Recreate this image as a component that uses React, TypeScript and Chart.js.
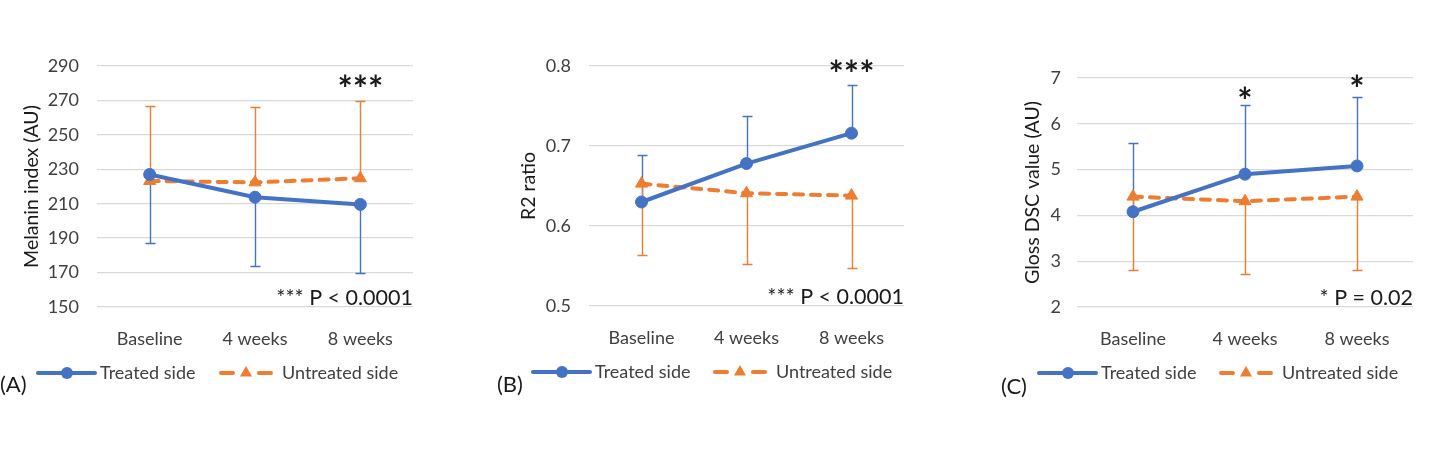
import { useEffect, useRef } from "react";
import { Chart, registerables } from "chart.js";

Chart.register(...registerables);

const FONT = "Lato, 'Open Sans', sans-serif";
const BLUE = "#4472C4";
const ORANGE = "#ED7D31";
const GRID = "#d9d9d9";
const TEXT = "#404040";
const DARK = "#1a1a1a";

const timepoints = ["Baseline", "4 weeks", "8 weeks"];
const seriesNames = ["Treated side", "Untreated side"];

// (A) Melanin index, mean and SD per visit
const melaninTreated = [227.0, 213.8, 209.6];
const melaninTreatedSD = [40.0, 40.0, 40.0];
const melaninUntreated = [223.2, 222.4, 224.8];
const melaninUntreatedSD = [43.8, 43.9, 44.6];
const melaninAxis = [150, 290, 20];
const melaninSig = ["", "", "***"];
const melaninSigAt = [0, 0, 280];

// (B) R2 ratio
const r2Treated = [0.63, 0.678, 0.716];
const r2TreatedSD = [0.059, 0.059, 0.06];
const r2Untreated = [0.653, 0.641, 0.638];
const r2UntreatedSD = [0.089, 0.089, 0.09];
const r2Axis = [0.5, 0.8, 0.1];
const r2Sig = ["", "", "***"];
const r2SigAt = [0, 0, 0.797];

// (C) Gloss DSC value
const glossTreated = [4.08, 4.9, 5.08];
const glossTreatedSD = [1.5, 1.5, 1.5];
const glossUntreated = [4.41, 4.31, 4.41];
const glossUntreatedSD = [1.6, 1.6, 1.6];
const glossAxis = [2, 7, 1];
const glossSig = ["", "*", "*"];
const glossSigAt = [0, 6.63, 6.88];

type PanelCfg = {
  tag: string;
  yTitle: string;
  axis: number[];
  decimals: number;
  treated: number[];
  treatedSD: number[];
  treatedDir: number;
  untreated: number[];
  untreatedSD: number[];
  untreatedDir: number;
  sig: string[];
  sigAt: number[];
  note: string;
  left: number;
  width: number;
  area: { left: number; right: number; top: number; bottom: number };
  tickPad: number;
  titleX: number;
  legendX: number[];
  legendY: number;
  tagX: number;
  tagY: number;
};

const panels: PanelCfg[] = [
  {
    tag: "(A)",
    yTitle: "Melanin index (AU)",
    axis: melaninAxis,
    decimals: 0,
    treated: melaninTreated,
    treatedSD: melaninTreatedSD,
    treatedDir: -1,
    untreated: melaninUntreated,
    untreatedSD: melaninUntreatedSD,
    untreatedDir: 1,
    sig: melaninSig,
    sigAt: melaninSigAt,
    note: "*** P < 0.0001",
    left: 0,
    width: 440,
    area: { left: 97, right: 413, top: 66, bottom: 307 },
    tickPad: 18,
    titleX: 32,
    legendX: [38, 219],
    legendY: 373,
    tagX: 0,
    tagY: 385,
  },
  {
    tag: "(B)",
    yTitle: "R2 ratio",
    axis: r2Axis,
    decimals: 1,
    treated: r2Treated,
    treatedSD: r2TreatedSD,
    treatedDir: 1,
    untreated: r2Untreated,
    untreatedSD: r2UntreatedSD,
    untreatedDir: -1,
    sig: r2Sig,
    sigAt: r2SigAt,
    note: "*** P < 0.0001",
    left: 490,
    width: 440,
    area: { left: 99, right: 414, top: 66, bottom: 306 },
    tickPad: 18,
    titleX: 39,
    legendX: [43, 223],
    legendY: 372,
    tagX: 7,
    tagY: 385,
  },
  {
    tag: "(C)",
    yTitle: "Gloss DSC value (AU)",
    axis: glossAxis,
    decimals: 0,
    treated: glossTreated,
    treatedSD: glossTreatedSD,
    treatedDir: 1,
    untreated: glossUntreated,
    untreatedSD: glossUntreatedSD,
    untreatedDir: -1,
    sig: glossSig,
    sigAt: glossSigAt,
    note: "* P = 0.02",
    left: 990,
    width: 440,
    area: { left: 87, right: 423, top: 78, bottom: 307 },
    tickPad: 16,
    titleX: 43,
    legendX: [49, 229],
    legendY: 373,
    tagX: 11,
    tagY: 387,
  },
];

const HEIGHT = 460;
const X_AXIS_H = 40;
const DASH = [9, 8];
const LINE_W = 4;

function overlay(cfg: PanelCfg) {
  return {
    id: "panelOverlay" + cfg.tag,
    beforeDatasetsDraw(chart: any) {
      const { ctx } = chart;
      const xs = chart.scales.x;
      const ys = chart.scales.y;
      const bars = [
        { mean: cfg.treated, sd: cfg.treatedSD, dir: cfg.treatedDir, color: BLUE },
        { mean: cfg.untreated, sd: cfg.untreatedSD, dir: cfg.untreatedDir, color: ORANGE },
      ];
      ctx.save();
      ctx.lineWidth = 1.4;
      for (const b of bars) {
        ctx.strokeStyle = b.color;
        b.mean.forEach((m, i) => {
          const x = Math.round(xs.getPixelForValue(i)) + 0.5;
          const y0 = ys.getPixelForValue(m);
          const y1 = Math.round(ys.getPixelForValue(m + b.dir * b.sd[i])) + 0.5;
          ctx.beginPath();
          ctx.moveTo(x, y0);
          ctx.lineTo(x, y1);
          ctx.moveTo(x - 5, y1);
          ctx.lineTo(x + 5, y1);
          ctx.stroke();
        });
      }
      ctx.restore();
    },
    afterDraw(chart: any) {
      const { ctx, chartArea } = chart;
      const xs = chart.scales.x;
      const ys = chart.scales.y;
      ctx.save();

      // significance stars above the visits
      ctx.fillStyle = DARK;
      ctx.textAlign = "center";
      ctx.textBaseline = "middle";
      ctx.font = `bold 36px ${FONT}`;
      cfg.sig.forEach((s, i) => {
        if (!s) return;
        ctx.fillText(s, xs.getPixelForValue(i), ys.getPixelForValue(cfg.sigAt[i]) + 7);
      });

      // p-value note
      ctx.font = `21.5px ${FONT}`;
      ctx.textAlign = "right";
      ctx.textBaseline = "alphabetic";
      ctx.fillText(cfg.note, chartArea.right, chartArea.bottom - 2);

      // legend
      ctx.font = `18px ${FONT}`;
      ctx.textBaseline = "middle";
      ctx.textAlign = "left";
      const ly = cfg.legendY;
      const [ax, bx] = cfg.legendX;
      ctx.lineCap = "round";
      ctx.lineWidth = LINE_W;
      ctx.strokeStyle = BLUE;
      ctx.beginPath();
      ctx.moveTo(ax, ly);
      ctx.lineTo(ax + 57, ly);
      ctx.stroke();
      ctx.fillStyle = BLUE;
      ctx.beginPath();
      ctx.arc(ax + 29, ly, 6, 0, Math.PI * 2);
      ctx.fill();
      ctx.fillStyle = TEXT;
      ctx.fillText(seriesNames[0], ax + 62, ly);

      ctx.strokeStyle = ORANGE;
      ctx.beginPath();
      ctx.moveTo(bx + 2, ly);
      ctx.lineTo(bx + 14, ly);
      ctx.moveTo(bx + 40, ly);
      ctx.lineTo(bx + 52, ly);
      ctx.stroke();
      ctx.fillStyle = ORANGE;
      const tx = bx + 27;
      const r = 7;
      ctx.beginPath();
      ctx.moveTo(tx, ly - r);
      ctx.lineTo(tx + Math.sin((2 * Math.PI) / 3) * r, ly + r / 2);
      ctx.lineTo(tx - Math.sin((2 * Math.PI) / 3) * r, ly + r / 2);
      ctx.closePath();
      ctx.fill();
      ctx.fillStyle = TEXT;
      ctx.fillText(seriesNames[1], bx + 63, ly);

      // panel tag
      ctx.fillStyle = DARK;
      ctx.font = `22px ${FONT}`;
      ctx.fillText(cfg.tag, cfg.tagX, cfg.tagY);
      ctx.restore();
    },
  };
}

function Panel({ cfg }: { cfg: PanelCfg }) {
  const ref = useRef<HTMLCanvasElement>(null);

  useEffect(() => {
    const canvas = ref.current;
    if (!canvas) return;
    const [min, max, step] = cfg.axis;
    const tickFont = { family: FONT, size: 18 };
    const titleSize = 19.5;
    const chart = new Chart(canvas, {
      type: "line",
      data: {
        labels: timepoints,
        datasets: [
          {
            label: seriesNames[0],
            data: cfg.treated,
            borderColor: BLUE,
            backgroundColor: BLUE,
            borderWidth: LINE_W,
            pointStyle: "circle",
            pointRadius: 6,
            pointBackgroundColor: BLUE,
            pointBorderColor: BLUE,
            pointBorderWidth: 1,
            tension: 0,
          },
          {
            label: seriesNames[1],
            data: cfg.untreated,
            borderColor: ORANGE,
            backgroundColor: ORANGE,
            borderWidth: LINE_W,
            borderDash: DASH,
            borderCapStyle: "round",
            pointStyle: "triangle",
            pointRadius: 7,
            pointBackgroundColor: ORANGE,
            pointBorderColor: ORANGE,
            pointBorderWidth: 1,
            tension: 0,
          },
        ],
      },
      options: {
        responsive: false,
        animation: false,
        devicePixelRatio: 1,
        layout: {
          padding: {
            left: 0,
            top: cfg.area.top,
            right: cfg.width - cfg.area.right,
            bottom: HEIGHT - cfg.area.bottom - X_AXIS_H,
          },
        },
        plugins: {
          legend: { display: false },
          tooltip: { enabled: false },
        },
        scales: {
          x: {
            offset: true,
            grid: { display: false },
            border: { display: false },
            ticks: { padding: 13.2, color: TEXT, font: tickFont },
            afterFit: (s: any) => {
              s.height = X_AXIS_H;
            },
          },
          y: {
            min,
            max,
            ticks: {
              stepSize: step,
              padding: cfg.tickPad,
              color: TEXT,
              font: tickFont,
              callback: (v: any) => Number(v).toFixed(cfg.decimals),
            },
            grid: { color: GRID, lineWidth: 1.3, drawTicks: false },
            border: { display: false },
            title: {
              display: true,
              text: cfg.yTitle,
              color: DARK,
              font: { family: FONT, size: titleSize },
              padding: { top: cfg.titleX - (titleSize * 1.2) / 2, bottom: 0 },
            },
            afterFit: (s: any) => {
              s.width = cfg.area.left;
            },
          },
        },
      },
      plugins: [overlay(cfg)],
    } as any);
    return () => chart.destroy();
  }, [cfg]);

  return (
    <canvas
      ref={ref}
      width={cfg.width}
      height={HEIGHT}
      style={{ position: "absolute", left: cfg.left, top: 0, width: cfg.width, height: HEIGHT }}
    />
  );
}

export default function App() {
  return (
    <div style={{ position: "absolute", left: 0, top: 0, width: 1450, height: HEIGHT, background: "#fff" }}>
      {panels.map((p) => (
        <Panel key={p.tag} cfg={p} />
      ))}
    </div>
  );
}
